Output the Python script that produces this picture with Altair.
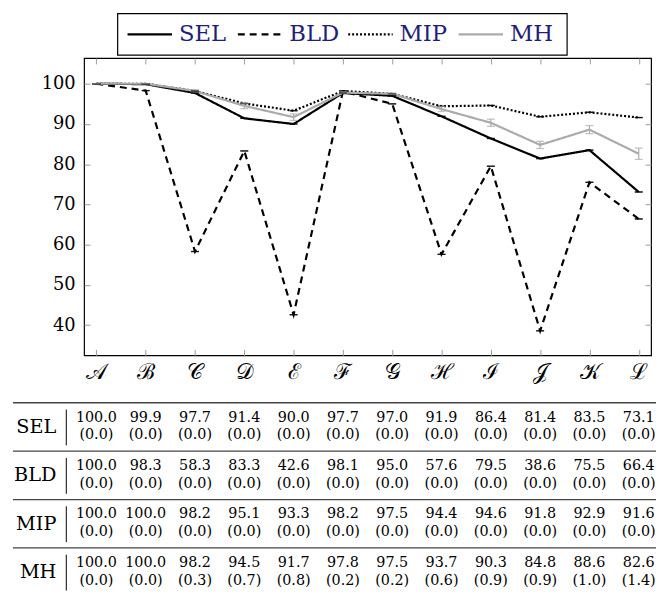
import altair as alt
import pandas as pd

SERIF = "DejaVu Serif"
NAVY = "#1f1f7a"

categories = ["𝒜", "ℬ", "𝒞", "𝒟", "ℰ", "ℱ", "𝒢", "ℋ", "ℐ", "𝒥", "𝒦", "ℒ"]
series_names = ["SEL", "BLD", "MIP", "MH"]

sel_vals = [100.0, 99.9, 97.7, 91.4, 90.0, 97.7, 97.0, 91.9, 86.4, 81.4, 83.5, 73.1]
sel_sd = [0.0] * 12
bld_vals = [100.0, 98.3, 58.3, 83.3, 42.6, 98.1, 95.0, 57.6, 79.5, 38.6, 75.5, 66.4]
bld_sd = [0.0] * 12
mip_vals = [100.0, 100.0, 98.2, 95.1, 93.3, 98.2, 97.5, 94.4, 94.6, 91.8, 92.9, 91.6]
mip_sd = [0.0] * 12
mh_vals = [100.0, 100.0, 98.2, 94.5, 91.7, 97.8, 97.5, 93.7, 90.3, 84.8, 88.6, 82.6]
mh_sd = [0.0, 0.0, 0.3, 0.7, 0.8, 0.2, 0.2, 0.6, 0.9, 0.9, 1.0, 1.4]

y_ticks = [40, 50, 60, 70, 80, 90, 100]

records = []
for r, (name, vals, sds) in enumerate(zip(series_names,
                                          [sel_vals, bld_vals, mip_vals, mh_vals],
                                          [sel_sd, bld_sd, mip_sd, mh_sd])):
    for i, (c, v, d) in enumerate(zip(categories, vals, sds)):
        records.append(dict(series=name, cat=c, idx=i, val=v, sd=d,
                            lo=v - d, hi=v + d, ymid=r + 0.5,
                            txt=f"{v:.1f}", ptxt=f"({d:.1f})"))
df = pd.DataFrame(records)

n = len(series_names)
rows_df = pd.DataFrame({"series": series_names,
                        "ytop": [r for r in range(n)],
                        "ymid": [r + 0.5 for r in range(n)],
                        "blo": [r + 0.14 for r in range(n)],
                        "bhi": [r + 0.88 for r in range(n)]})

SYM_LEN, LAB_OFF = 0.403, 0.466
legend_df = pd.DataFrame({"series": series_names,
                          "lx0": [i for i in range(n)],
                          "lx1": [i + SYM_LEN for i in range(n)],
                          "ltx": [i + LAB_OFF for i in range(n)]})
box_df = pd.DataFrame({"box": [0]})

W, H = 574, 301
xscale = alt.Scale(type="point", padding=0.25)
yscale = alt.Scale(domain=[32.5, 106.4], nice=False, zero=False)
cscale = alt.Scale(domain=series_names, range=["black", "black", "black", "#ababab"])
dscale = alt.Scale(domain=series_names, range=[[1, 0], [7, 5], [2, 2], [1, 0]])
lxscale = alt.Scale(domain=[0, 4], range=[44, 490.8], nice=False, zero=False)
tyscale = alt.Scale(domain=[0, 4], range=[349, 545], nice=False, zero=False)
LEG_Y = -24

label_x_axis = alt.Axis(title=None, labelAngle=0, tickSize=0, domain=False, grid=False,
                        labelFont=SERIF, labelFontSize=22, labelPadding=6,
                        labelColor="black")
label_y_axis = alt.Axis(title=None, values=y_ticks, tickSize=0, domain=False, grid=False,
                        labelFont=SERIF, labelFontSize=18, labelPadding=9,
                        labelColor="black")


def tick_axis(orient, values=None):
    kw = dict(title=None, orient=orient, labels=False, tickSize=6, tickColor="#9a9a9a",
              tickWidth=1, offset=-6, domain=False, grid=False)
    if values is not None:
        kw["values"] = values
    return alt.Axis(**kw)


base = alt.Chart(df)

lines = base.mark_line(strokeWidth=2.2).encode(
    x=alt.X("cat:N", sort=categories, scale=xscale, axis=label_x_axis),
    y=alt.Y("val:Q", scale=yscale, axis=label_y_axis),
    color=alt.Color("series:N", scale=cscale, legend=None),
    strokeDash=alt.StrokeDash("series:N", scale=dscale, legend=None),
    order="idx:Q",
)

bars = base.mark_rule(strokeWidth=1.2).encode(
    x=alt.X("cat:N", sort=categories, scale=xscale, axis=tick_axis("bottom")),
    y=alt.Y("lo:Q", scale=yscale, axis=tick_axis("left", y_ticks)),
    y2="hi:Q",
    color=alt.Color("series:N", scale=cscale, legend=None),
)

caps_lo = base.mark_tick(size=8, thickness=1.3).encode(
    x=alt.X("cat:N", sort=categories, scale=xscale, axis=tick_axis("top")),
    y=alt.Y("lo:Q", scale=yscale, axis=tick_axis("right", y_ticks)),
    color=alt.Color("series:N", scale=cscale, legend=None),
)

caps_hi = base.mark_tick(size=8, thickness=1.3).encode(
    x=alt.X("cat:N", sort=categories, scale=xscale, axis=None),
    y=alt.Y("hi:Q", scale=yscale, axis=None),
    color=alt.Color("series:N", scale=cscale, legend=None),
)

# ---- legend (drawn as marks) ----
leg_box = alt.Chart(box_df).mark_rect(fill="white", stroke="black", strokeWidth=1.2).encode(
    x=alt.value(34), x2=alt.value(489), y=alt.value(-45), y2=alt.value(-3))
leg_sym = alt.Chart(legend_df).mark_rule(strokeWidth=2.2).encode(
    x=alt.X("lx0:Q", scale=lxscale, axis=None), x2="lx1:Q",
    y=alt.value(LEG_Y),
    color=alt.Color("series:N", scale=cscale, legend=None),
    strokeDash=alt.StrokeDash("series:N", scale=dscale, legend=None))
leg_txt = alt.Chart(legend_df).mark_text(font=SERIF, fontSize=23, align="left",
                                         baseline="middle", color=NAVY).encode(
    x=alt.X("ltx:Q", scale=lxscale, axis=None), y=alt.value(LEG_Y), text="series:N")

# ---- table below ----
tx = alt.X("cat:N", sort=categories, scale=xscale, axis=None)
ty = alt.Y("ymid:Q", scale=tyscale, axis=None)

vals_text = alt.Chart(df).mark_text(font=SERIF, fontSize=14.5, dy=-9.5, color="black").encode(
    x=tx, y=ty, text="txt:N")
paren_text = alt.Chart(df).mark_text(font=SERIF, fontSize=14.5, dy=8.5, color="black").encode(
    x=tx, y=ty, text="ptxt:N")
hlines = alt.Chart(rows_df).mark_rule(strokeWidth=1.3, color="#444444").encode(
    x=alt.value(-72), x2=alt.value(579),
    y=alt.Y("ytop:Q", scale=tyscale, axis=None))
vbars = alt.Chart(rows_df).mark_rule(strokeWidth=1, color="black").encode(
    x=alt.value(-18),
    y=alt.Y("blo:Q", scale=tyscale, axis=None), y2="bhi:Q")
row_labels = alt.Chart(rows_df).mark_text(font=SERIF, fontSize=19.5, align="right",
                                          color="black").encode(
    x=alt.value(-28), y=ty, text="series:N")

chart = alt.layer(
    lines, bars, caps_lo, caps_hi,
    leg_box, leg_sym, leg_txt,
    hlines, vbars, row_labels, vals_text, paren_text,
).resolve_scale(
    x="independent", y="independent", color="independent", strokeDash="independent"
).resolve_axis(
    x="independent", y="independent"
).properties(
    width=W, height=H,
    padding={"left": 4, "top": 1, "right": 0, "bottom": 0},
).configure_view(stroke="black", strokeWidth=1.2)

chart.save("out.html", embed_options={"renderer": "svg", "actions": False})
